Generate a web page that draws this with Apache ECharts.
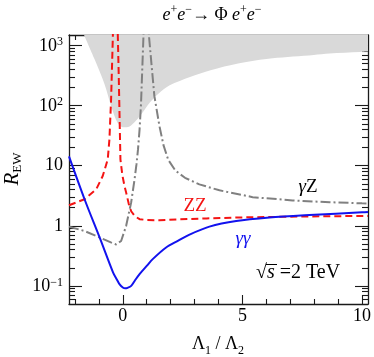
<!DOCTYPE html>
<html>
<head>
<meta charset="utf-8">
<script src="https://cdn.jsdelivr.net/npm/echarts@6/dist/echarts.min.js"></script>
<style>html,body{margin:0;padding:0;background:#fff}#c{width:374px;height:357px}</style>
</head>
<body>
<div id="c"></div>
<script>
// ---- axis ranges and ticks ----
const xMin = -2.25, xMax = 10.25;
const yMin = 0.05, yMax = 1500;
const xMajorTicks = [0, 5, 10];
const xMinorTicks = [-2, -1, 1, 2, 3, 4, 6, 7, 8, 9];
const yMajorTicks = [0.1, 1, 10, 100, 1000];
const yMajorLabels = ['10|−1', '1', '10', '10|2', '10|3'];
const yMinorMultipliers = [2, 3, 4, 5, 6, 7, 8, 9];

// ---- data ----
// gamma gamma (blue solid)
const aaX = [-2.25, -1.6, -0.97, -0.41, -0.25, -0.14, 0.0, 0.10, 0.2, 0.35, 0.5, 0.70, 1.0, 1.25, 1.81, 2.30, 2.79, 3.62, 4.74, 6.13, 7.80, 10.0, 10.25];
const aaY = [14.3, 2.77, 0.64, 0.168, 0.128, 0.107, 0.094, 0.091, 0.093, 0.100, 0.122, 0.157, 0.215, 0.279, 0.436, 0.561, 0.715, 0.97, 1.2, 1.37, 1.51, 1.68, 1.70];
// ZZ (red dashed)
const zzX = [-2.25, -1.6, -1.11, -0.84, -0.63, -0.56, -0.49, -0.42, -0.38, -0.30, -0.23, -0.21, -0.17, -0.13, -0.10, -0.02, 0.07, 0.14, 0.25, 0.35, 0.5, 0.70, 1.0, 1.53, 2.3, 3.5, 5.0, 7.5, 10.0, 10.25];
const zzY = [2.2, 2.77, 4.06, 6.75, 12.8, 27.5, 127, 1260, 5000, 100000, 5000, 1500, 310, 50, 12.8, 7.0, 4.6, 3.57, 2.3, 1.75, 1.45, 1.29, 1.25, 1.24, 1.28, 1.33, 1.38, 1.43, 1.46, 1.46];
// gamma Z (gray dash-dot)
const azX = [-2.25, -1.6, -0.97, -0.5, -0.28, -0.07, 0.14, 0.35, 0.49, 0.57, 0.635, 0.70, 0.76, 0.82, 0.865, 0.93, 1.0, 1.06, 1.09, 1.20, 1.32, 1.53, 1.7, 1.9, 2.2, 2.6, 3.2, 4.04, 5.43, 7.1, 8.65, 10.0, 10.25];
const azY = [0.97, 0.82, 0.64, 0.53, 0.49, 0.56, 1.0, 2.47, 5.9, 10.5, 18.7, 40, 105, 483, 1520, 8000, 100000, 8000, 1500, 483, 144, 46, 22, 12.5, 8.3, 6.3, 4.9, 3.9, 3.0, 2.65, 2.47, 2.37, 2.36];
// shaded region lower boundary
const shadeX = [-1.62, -1.18, -0.76, -0.47, -0.22, 0.03, 0.28, 0.70, 1.12, 1.5, 1.96, 2.81, 3.67, 4.82, 6.26, 7.98, 8.64, 9.92, 10.25];
const shadeY = [1500, 590, 225, 93, 52, 43.6, 45, 66, 112, 160, 218, 300, 390, 505, 615, 700, 740, 785, 795];

const L = Math.log10;
const pts = (xs, ys) => xs.map((x, i) => [x, L(ys[i])]);
const yMajorLog = yMajorTicks.map(L);
const yMinorLog = [];
for (let d = -2; d <= 3; d++) {
  yMinorMultipliers.forEach(m => {
    const v = L(m) + d;
    if (v > L(yMin) && v < L(yMax)) yMinorLog.push(v);
  });
}

const serif = '"Liberation Serif", "DejaVu Serif", serif';
const frame = { show: true, onZero: false, lineStyle: { color: '#1a1a1a', width: 1.3 } };
const noLine = { show: false, onZero: false };

function yLabelFmt(v) {
  let idx = -1;
  yMajorLog.forEach((t, i) => { if (Math.abs(t - v) < 1e-6) idx = i; });
  if (idx < 0) return '';
  const s = yMajorLabels[idx].split('|');
  return s.length === 1 ? '{b|' + s[0] + '}' : '{b|' + s[0] + '}{s|' + s[1] + '}';
}

function xAx(pos, major, withLabel) {
  return {
    type: 'value', min: xMin, max: xMax, position: pos,
    axisLine: major ? frame : noLine,
    axisTick: { show: true, inside: true, length: major ? 9 : 5, customValues: major ? xMajorTicks : xMinorTicks, lineStyle: { color: '#1a1a1a', width: 1.1 } },
    axisLabel: withLabel ? { show: true, customValues: xMajorTicks, margin: 3, fontSize: 18, fontFamily: serif, color: '#000' } : { show: false },
    splitLine: { show: false }
  };
}
function yAx(pos, major, withLabel) {
  return {
    type: 'value', min: L(yMin), max: L(yMax), position: pos,
    axisLine: major ? frame : noLine,
    axisTick: { show: true, inside: true, length: major ? 13 : 6, customValues: major ? yMajorLog : yMinorLog, lineStyle: { color: '#1a1a1a', width: 1.1 } },
    axisLabel: withLabel ? {
      show: true, customValues: yMajorLog, margin: 6, formatter: yLabelFmt, color: '#000',
      rich: {
        b: { fontSize: 18, fontFamily: serif, verticalAlign: 'bottom', color: '#000' },
        s: { fontSize: 12, fontFamily: serif, verticalAlign: 'bottom', padding: [0, 0, 7, 0], color: '#000' }
      }
    } : { show: false },
    splitLine: { show: false }
  };
}

const chart = echarts.init(document.getElementById('c'), null, { renderer: 'canvas' });
chart.setOption({
  animation: false,
  backgroundColor: '#fff',
  grid: { left: 69, top: 35, width: 299, height: 269, containLabel: false },
  xAxis: [xAx('bottom', true, true), xAx('bottom', false, false), xAx('top', true, false), xAx('top', false, false)],
  yAxis: [yAx('left', true, true), yAx('left', false, false), yAx('right', true, false), yAx('right', false, false)],
  series: [
    { type: 'line', data: pts(shadeX, shadeY), symbol: 'none', smooth: 0.3, lineStyle: { width: 0, opacity: 0 },
      areaStyle: { origin: 'end', color: '#d9d9d9', opacity: 1 }, z: 1 },
    { type: 'line', data: pts(azX, azY), symbol: 'none', lineStyle: { color: '#808080', width: 2, type: [10, 3, 2, 3] }, z: 3 },
    { type: 'line', data: pts(zzX, zzY), symbol: 'none', lineStyle: { color: '#f41414', width: 2, type: [7, 4] }, z: 4 },
    { type: 'line', data: pts(aaX, aaY), symbol: 'none', smooth: 0.3, lineStyle: { color: '#1212ee', width: 2 }, z: 5 }
  ],
  graphic: [
    { type: 'text', x: 212, y: 14, style: { text: '{i|e}{s|+}{i|e}{s|−}{n|→ Φ }{i|e}{s|+}{i|e}{s|−}', align: 'center', verticalAlign: 'middle', textAlign: 'center', textVerticalAlign: 'middle',
      rich: { i: { fontSize: 18, fontStyle: 'italic', fontFamily: serif, verticalAlign: 'bottom' }, n: { fontSize: 18, fontFamily: serif, verticalAlign: 'bottom' }, s: { fontSize: 12, fontFamily: serif, verticalAlign: 'bottom', padding: [0, 0, 8, 0] } } } },
    { type: 'text', x: 13, y: 169, rotation: Math.PI / 2, style: { text: '{r|R}{e|EW}', align: 'center', verticalAlign: 'middle', textAlign: 'center', textVerticalAlign: 'middle',
      rich: { r: { fontSize: 21, fontStyle: 'italic', fontFamily: serif, verticalAlign: 'top' }, e: { fontSize: 13, fontFamily: serif, verticalAlign: 'top', padding: [9, 0, 0, 0] } } } },
    { type: 'text', x: 218, y: 346, style: { text: '{a|Λ}{s|1}{a| / Λ}{s|2}', align: 'center', verticalAlign: 'middle', textAlign: 'center', textVerticalAlign: 'middle',
      rich: { a: { fontSize: 18, fontFamily: serif, verticalAlign: 'top' }, s: { fontSize: 12, fontFamily: serif, verticalAlign: 'top', padding: [9, 0, 0, 0] } } } },
    { type: 'text', x: 308, y: 187, style: { text: '{i|γ}{n|Z}', align: 'center', verticalAlign: 'middle', textAlign: 'center', textVerticalAlign: 'middle',
      rich: { i: { fontSize: 19, fontStyle: 'italic', fontFamily: serif, color: '#808080' }, n: { fontSize: 19, fontFamily: serif, color: '#808080' } } } },
    { type: 'text', x: 195, y: 206, style: { text: 'ZZ', fill: '#f41414', font: '19px ' + serif, align: 'center', verticalAlign: 'middle', textAlign: 'center', textVerticalAlign: 'middle' } },
    { type: 'text', x: 243, y: 239, style: { text: 'γγ', fill: '#1212ee', font: 'italic 19px ' + serif, align: 'center', verticalAlign: 'middle', textAlign: 'center', textVerticalAlign: 'middle' } },
    { type: 'text', x: 256, y: 273, style: { text: '{r|√}{i|s}{n| =2 TeV}', align: 'left', verticalAlign: 'middle', textAlign: 'left', textVerticalAlign: 'middle',
      rich: { r: { fontSize: 20, fontFamily: serif }, i: { fontSize: 20, fontStyle: 'italic', fontFamily: serif }, n: { fontSize: 20, fontFamily: serif } } } },
    { type: 'line', shape: { x1: 266, y1: 264.5, x2: 277, y2: 264.5 }, style: { stroke: '#000', lineWidth: 1 } }
  ]
});
</script>
</body>
</html>
